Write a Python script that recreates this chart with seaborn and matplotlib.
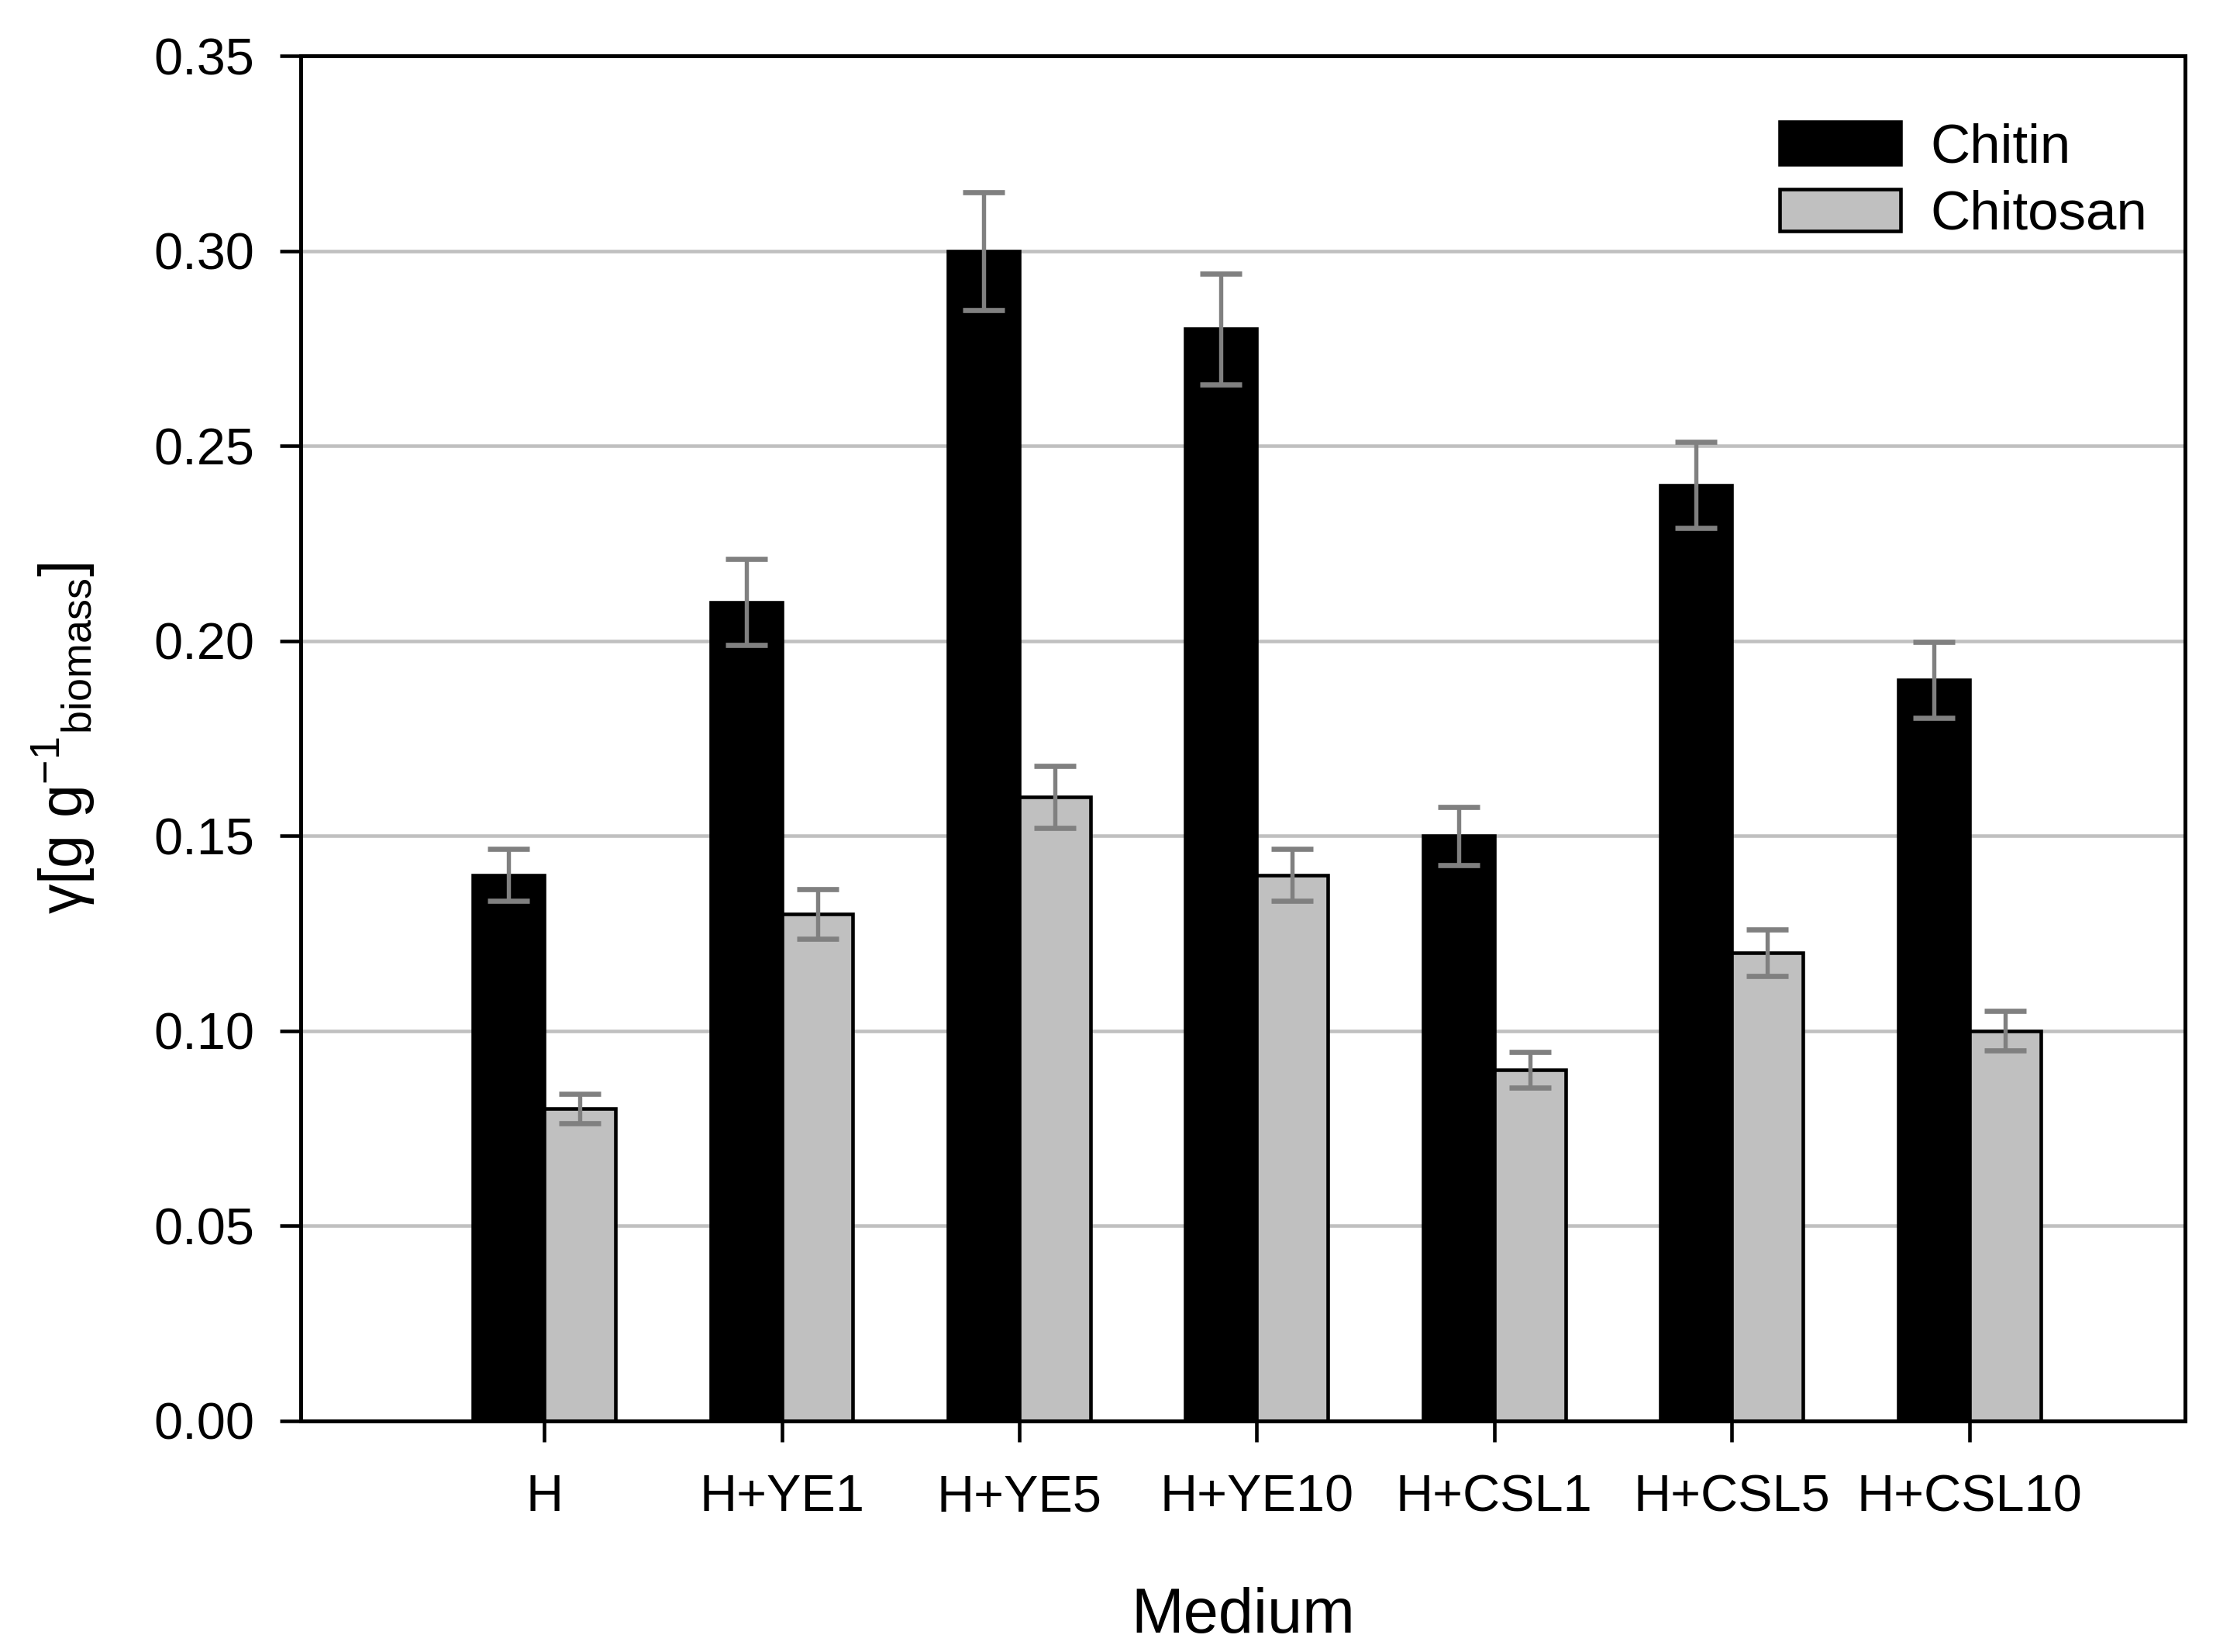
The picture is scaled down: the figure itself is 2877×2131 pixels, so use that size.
import matplotlib
matplotlib.use("Agg")
import matplotlib.pyplot as plt
import pandas as pd
import seaborn as sns
from matplotlib.patches import Patch

# data
media = ["H", "H+YE1", "H+YE5", "H+YE10", "H+CSL1", "H+CSL5", "H+CSL10"]
chitin = [0.14, 0.21, 0.30, 0.28, 0.15, 0.24, 0.19]
chitosan = [0.08, 0.13, 0.16, 0.14, 0.09, 0.12, 0.10]
chitin_err = [0.0066, 0.011, 0.0151, 0.0142, 0.0075, 0.011, 0.0097]
chitosan_err = [0.0038, 0.0064, 0.008, 0.0066, 0.0046, 0.006, 0.0051]
y_ticks = [0.00, 0.05, 0.10, 0.15, 0.20, 0.25, 0.30, 0.35]

sns.set_style("white")
plt.rcParams["font.family"] = ["Liberation Sans", "DejaVu Sans"]
plt.rcParams["mathtext.fontset"] = "custom"
plt.rcParams["mathtext.rm"] = "Liberation Sans"
plt.rcParams["mathtext.it"] = "Liberation Sans"
for key in ["text.color", "axes.labelcolor", "xtick.color", "ytick.color"]:
    plt.rcParams[key] = "black"

df = pd.DataFrame({
    "Medium": media * 2,
    "value": chitin + chitosan,
    "kind": ["Chitin"] * len(media) + ["Chitosan"] * len(media),
})

fig = plt.figure(figsize=(2877 / 300, 2131 / 300), dpi=300)
ax = fig.add_axes([0.135, 0.140, 0.845, 0.826])

# grid behind bars
ax.set_axisbelow(True)
ax.yaxis.grid(True, color="#c0c0c0", linewidth=1.1)
ax.xaxis.grid(False)

sns.barplot(
    data=df, x="Medium", y="value", hue="kind",
    palette=["#000000", "#c0c0c0"], width=0.6,
    edgecolor="black", linewidth=1.1, errorbar=None, legend=False, ax=ax,
)

# error bars at the centres of the drawn bars
bars = ax.patches
for i, err in enumerate(chitin_err + chitosan_err):
    b = bars[i]
    ax.errorbar(
        b.get_x() + b.get_width() / 2, b.get_height(), yerr=err,
        fmt="none", ecolor="#808080", elinewidth=1.3, capsize=6.5,
        capthick=1.6, zorder=5,
    )

ax.set_xlim(-1.024, 6.91)
ax.set_ylim(0, 0.35)
ax.set_yticks(y_ticks)
ax.set_yticklabels([f"{t:.2f}" for t in y_ticks])

for s in ax.spines.values():
    s.set_visible(True)
    s.set_color("black")
    s.set_linewidth(1.2)

ax.tick_params(axis="both", direction="out", length=6.5, width=1.1,
               color="black", labelcolor="black", labelsize=16)
ax.tick_params(axis="y", pad=8, left=True)
ax.tick_params(axis="x", pad=10, bottom=True)

ax.set_xlabel("Medium", fontsize=19.5, labelpad=20)
ax.set_ylabel("γ[g g$^{-1}$$_{\\mathrm{biomass}}$]", fontsize=18.5, labelpad=17.5)

handles = [
    Patch(facecolor="#000000", edgecolor="black", linewidth=1.1, label="Chitin"),
    Patch(facecolor="#c0c0c0", edgecolor="black", linewidth=1.1, label="Chitosan"),
]
ax.legend(handles=handles, loc="upper right", frameon=False, fontsize=17,
          handlelength=2.2, handleheight=0.8, labelspacing=0.28,
          handletextpad=0.55, borderaxespad=0.6, bbox_to_anchor=(1.009, 0.992))

fig.savefig("out.png", dpi=300)
